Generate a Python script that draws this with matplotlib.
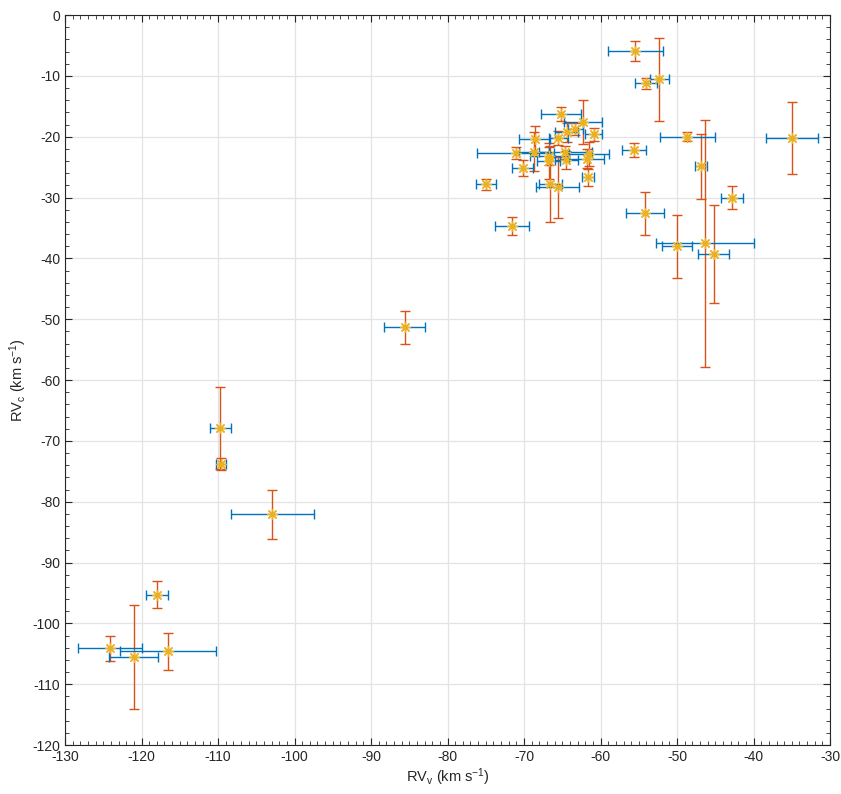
import numpy as np
import matplotlib.pyplot as plt
from matplotlib.ticker import MultipleLocator

plt.rcParams['font.family'] = ['Liberation Sans', 'DejaVu Sans']
plt.rcParams['mathtext.default'] = 'regular'
plt.rcParams['axes.unicode_minus'] = False

# velocities (km/s)
rv_v = [-124.1, -121.0, -116.5, -118.0, -109.7, -109.6, -102.9, -85.6,
        -55.45, -54.05, -52.35, -48.65, -35.0, -46.9, -46.3, -54.2, -42.8,
        -50.0, -45.2, -55.6,
        -65.2, -62.25, -60.9, -63.3, -64.4, -65.5, -68.6, -71.1, -68.7,
        -66.7, -66.8, -64.6, -64.5, -61.8, -61.5, -61.6, -70.2, -75.0,
        -71.6, -66.55, -65.6]
rv_c = [-104.1, -105.5, -104.6, -95.3, -67.9, -73.8, -82.1, -51.3,
        -5.9, -11.2, -10.6, -20.0, -20.2, -24.9, -37.5, -32.6, -30.0,
        -38.0, -39.3, -22.2,
        -16.3, -17.6, -19.6, -18.7, -19.3, -20.2, -20.4, -22.7, -22.5,
        -23.2, -24.0, -22.6, -23.8, -23.6, -22.85, -26.7, -25.1, -27.8,
        -34.7, -27.8, -28.3]
err_v = [4.2, 3.2, 6.3, 1.4, 1.4, 0.65, 5.4, 2.7,
         3.6, 1.4, 1.25, 3.6, 3.4, 0.75, 6.4, 2.5, 1.45,
         2.0, 2.0, 1.6,
         2.6, 2.5, 1.1, 1.0, 1.5, 1.2, 2.0, 5.0, 2.0,
         2.5, 1.5, 3.5, 1.5, 2.3, 2.6, 0.8, 1.4, 1.3,
         2.2, 1.5, 2.8]
err_c = [2.1, 8.5, 3.0, 2.2, 6.7, 0.95, 4.0, 2.7,
         1.7, 0.9, 6.9, 0.75, 5.9, 5.3, 20.3, 3.5, 1.85,
         5.2, 8.1, 1.2,
         1.2, 3.6, 1.1, 1.0, 1.5, 1.2, 2.1, 1.0, 3.2,
         1.5, 3.0, 1.0, 1.5, 1.5, 2.0, 1.4, 1.3, 0.9,
         1.5, 6.3, 5.0]

fig = plt.figure(figsize=(8.41, 7.94), dpi=100)
ax = fig.add_axes([0.0773, 0.0617, 0.9097, 0.9194])

ax.errorbar(rv_v, rv_c, yerr=err_c, fmt='none', ecolor='#D95319',
            elinewidth=1.0, capsize=3.6, capthick=1.0, zorder=3)
ax.errorbar(rv_v, rv_c, xerr=err_v, fmt='none', ecolor='#0072BD',
            elinewidth=1.0, capsize=3.6, capthick=1.0, zorder=4)
ax.plot(rv_v, rv_c, linestyle='none', marker=(8, 2, 0), markersize=8,
        markeredgewidth=0.9, color='#EDB120', zorder=5)

ax.set_xlim(-130, -30)
ax.set_ylim(-120, 0)
ax.xaxis.set_major_locator(MultipleLocator(10))
ax.xaxis.set_minor_locator(MultipleLocator(1))
ax.yaxis.set_major_locator(MultipleLocator(10))
ax.yaxis.set_minor_locator(MultipleLocator(2))
ax.tick_params(which='both', direction='in', top=True, right=True,
               colors='#262626', labelsize=10)
ax.tick_params(which='major', length=5, width=0.8)
ax.tick_params(which='minor', length=3, width=0.6)
ax.grid(True, which='major', color='#e3e3e3', linewidth=0.9)
ax.set_axisbelow(True)
for s in ax.spines.values():
    s.set_color('#262626')
    s.set_linewidth(0.8)

ax.set_xlabel('RV$_v$ (km s$^{-1}$)', fontsize=10.5, color='#262626', labelpad=2)
ax.set_ylabel('RV$_c$ (km s$^{-1}$)', fontsize=10.5, color='#262626', labelpad=2)

fig.savefig('out.png', dpi=100)
